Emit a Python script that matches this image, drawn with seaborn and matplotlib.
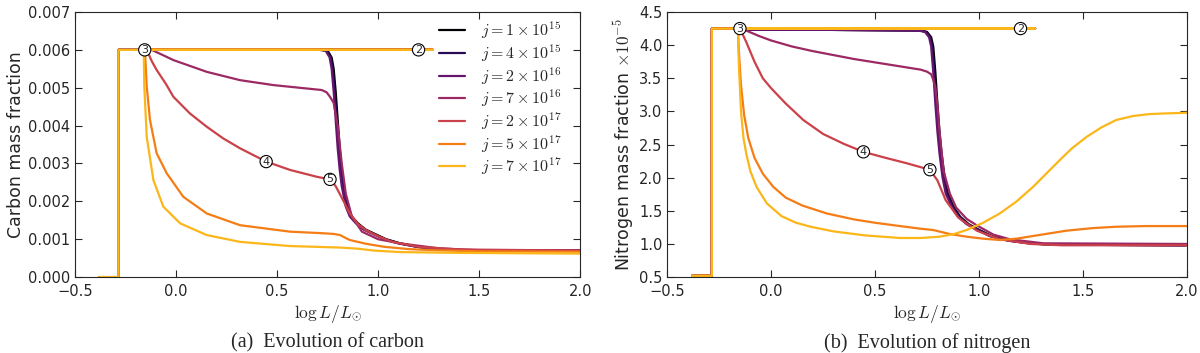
import pandas as pd
import numpy as np
import seaborn as sns
import matplotlib.pyplot as plt

# series labels
j_labels = [r'$j=1\times10^{15}$', r'$j=4\times10^{15}$', r'$j=2\times10^{16}$',
            r'$j=7\times10^{16}$', r'$j=2\times10^{17}$', r'$j=5\times10^{17}$',
            r'$j=7\times10^{17}$']
colors = ['#000004', '#280b54', '#65156e', '#9c2964', '#cb4149', '#f57d15', '#fbb61a']

# common start of each track: pre-jump, jump, flat out to marker 2
start_x = [-0.38, -0.285, -0.285, 1.27]

# ---- carbon (panel a) ----
c_start_y = [0.0, 0.0, 0.006, 0.006]
dark_cx = [0.72, 0.75, 0.77, 0.78, 0.79, 0.80, 0.81, 0.82, 0.83, 0.85, 0.87, 0.90,
           0.94, 0.98, 1.04, 1.11, 1.2, 1.31, 1.5, 2.0]
dark_cy = [0.006, 0.00598, 0.0058, 0.0055, 0.0049, 0.00415, 0.0034, 0.00283, 0.0024,
           0.00186, 0.0016, 0.00142, 0.00125, 0.00115, 0.001, 0.00089, 0.0008,
           0.00073, 0.0007, 0.0007]
c_x = [
    dark_cx,
    [x - 0.005 for x in dark_cx],
    [x - 0.01 for x in dark_cx],
    [-0.12, -0.013, 0.152, 0.317, 0.482, 0.647, 0.721, 0.745, 0.762, 0.78, 0.80, 0.82,
     0.84, 0.87, 0.92, 1.0, 1.11, 1.3, 1.5, 2.0],
    [-0.145, -0.12, -0.096, -0.05, -0.013, 0.069, 0.152, 0.234, 0.317, 0.446, 0.564,
     0.696, 0.762, 0.79, 0.81, 0.86, 0.9, 0.94, 1.0, 1.07, 1.2, 1.4, 2.0],
    [-0.16, -0.153, -0.145, -0.129, -0.096, -0.046, 0.036, 0.152, 0.317, 0.564, 0.72,
     0.78, 0.812, 0.84, 0.86, 0.94, 1.03, 1.15, 1.28, 1.5, 2.0],
    [-0.16, -0.157, -0.145, -0.112, -0.063, 0.02, 0.152, 0.317, 0.564, 0.812, 0.9,
     0.98, 1.11, 1.4, 2.0],
]
c_y = [
    dark_cy,
    dark_cy,
    dark_cy,
    [0.006, 0.00573, 0.00542, 0.0052, 0.00507, 0.00498, 0.00494, 0.00488, 0.00476,
     0.0046, 0.004, 0.003, 0.0022, 0.0016, 0.0012, 0.001, 0.00089, 0.00076, 0.00071,
     0.0007],
    [0.006, 0.0057, 0.00547, 0.0051, 0.00476, 0.00432, 0.00397, 0.00366, 0.0034,
     0.00305, 0.00283, 0.00265, 0.00258, 0.0024, 0.0022, 0.00168, 0.0014, 0.00124,
     0.00108, 0.00093, 0.0008, 0.00073, 0.0007],
    [0.006, 0.0059, 0.00503, 0.00415, 0.00327, 0.00274, 0.00212, 0.00168, 0.00137,
     0.0012, 0.00116, 0.00114, 0.00111, 0.00103, 0.00098, 0.00088, 0.0008, 0.00074,
     0.00071, 0.00068, 0.00067],
    [0.006, 0.00503, 0.0037, 0.00256, 0.00186, 0.00142, 0.00111, 0.00093, 0.00082,
     0.00078, 0.00075, 0.0007, 0.00066, 0.00064, 0.00062],
]

# ---- nitrogen (panel b), units of 1e-5 ----
n_start_y = [0.52, 0.52, 4.25, 4.25]
dark_nx = [-0.15, 0.3, 0.72, 0.75, 0.77, 0.78, 0.79, 0.80, 0.81, 0.82, 0.835, 0.85,
           0.88, 0.91, 0.95, 0.99, 1.06, 1.15, 1.25, 1.35, 2.0]
dark_ny = [4.24, 4.23, 4.22, 4.2, 4.12, 3.98, 3.6, 3.12, 2.7, 2.37, 2.0, 1.76, 1.55,
           1.41, 1.3, 1.23, 1.12, 1.05, 1.01, 0.99, 0.98]
n_x = [
    dark_nx,
    [x - 0.005 for x in dark_nx],
    [x - 0.01 for x in dark_nx],
    [-0.15, -0.12, -0.06, 0.0, 0.1, 0.2, 0.4, 0.62, 0.72, 0.75, 0.77, 0.78, 0.79, 0.80,
     0.81, 0.83, 0.86, 0.89, 0.94, 0.99, 1.07, 1.15, 1.31, 2.0],
    [-0.15, -0.12, -0.08, -0.04, 0.0, 0.07, 0.155, 0.25, 0.35, 0.444, 0.55, 0.65,
     0.764, 0.80, 0.84, 0.9, 0.99, 1.1, 1.25, 1.4, 2.0],
    [-0.16, -0.155, -0.145, -0.13, -0.11, -0.08, -0.04, 0.011, 0.07, 0.15, 0.268, 0.4,
     0.5, 0.62, 0.72, 0.78, 0.86, 0.94, 1.02, 1.10, 1.18, 1.26, 1.42, 1.55, 1.66, 1.8,
     2.0],
    [-0.16, -0.155, -0.145, -0.133, -0.12, -0.1, -0.07, -0.02, 0.05, 0.12, 0.19, 0.3,
     0.45, 0.62, 0.72, 0.81, 0.88, 0.94, 1.02, 1.10, 1.18, 1.26, 1.32, 1.39, 1.45,
     1.52, 1.59, 1.66, 1.74, 1.82, 1.9, 2.0],
]
n_y = [
    dark_ny,
    dark_ny,
    dark_ny,
    [4.25, 4.22, 4.14, 4.07, 3.98, 3.91, 3.79, 3.68, 3.63, 3.6, 3.56, 3.48, 3.37, 3.1,
     2.7, 2.1, 1.76, 1.55, 1.38, 1.28, 1.14, 1.07, 1.01, 1.0],
    [4.25, 4.05, 3.75, 3.5, 3.35, 3.12, 2.87, 2.66, 2.51, 2.39, 2.3, 2.22, 2.12, 1.96,
     1.66, 1.4, 1.2, 1.07, 1.0, 0.98, 0.98],
    [4.25, 3.9, 3.4, 2.95, 2.6, 2.3, 2.06, 1.86, 1.7, 1.58, 1.46, 1.37, 1.32, 1.27,
     1.23, 1.21, 1.15, 1.11, 1.08, 1.06, 1.08, 1.12, 1.2, 1.24, 1.26, 1.27, 1.27],
    [4.25, 3.7, 3.0, 2.6, 2.37, 2.1, 1.86, 1.61, 1.42, 1.32, 1.26, 1.19, 1.13, 1.09,
     1.09, 1.11, 1.15, 1.21, 1.32, 1.46, 1.64, 1.86, 2.05, 2.27, 2.45, 2.62, 2.76,
     2.87, 2.93, 2.96, 2.97, 2.98],
]

# circled stage markers: label, x, y
stages = ['2', '3', '4', '5']
c_stage_x = [1.2, -0.155, 0.446, 0.762]
c_stage_y = [0.006, 0.006, 0.00305, 0.00258]
n_stage_x = [1.2, -0.15, 0.444, 0.764]
n_stage_y = [4.25, 4.25, 2.39, 2.12]


def build_df(sx, sy, xs, ys):
    rows = []
    for lab, x, y in zip(j_labels, xs, ys):
        for xi, yi in zip(sx + x, sy + y):
            rows.append((lab, xi, yi))
    return pd.DataFrame(rows, columns=['j', 'logL', 'frac'])


def draw_panel(ax, df, stage_x, stage_y, ylabel, ylim, caption, legend=False):
    sns.lineplot(data=df, x='logL', y='frac', hue='j', palette=colors, sort=False,
                 estimator=None, lw=1.6, ax=ax, legend=legend)
    for lab, x, y in zip(stages, stage_x, stage_y):
        ax.annotate(lab, (x, y), ha='center', va='center', fontsize=8, zorder=5,
                    bbox=dict(boxstyle='circle,pad=0.1', fc='white', ec='black', lw=0.8))
    ax.set_xlim(-0.5, 2.0)
    ax.set_ylim(ylim)
    ax.set_xticks(np.arange(-0.5, 2.01, 0.5))
    ax.set_xlabel(r'$\log L/L_{\odot}$', fontsize=12.5, labelpad=3)
    ax.set_ylabel(ylabel, fontsize=12.5, labelpad=2)
    ax.tick_params(direction='in', top=True, right=True, labelsize=10.5, length=5)
    ax.tick_params(axis='x', pad=5)
    ax.text(0.5, -0.249, caption, transform=ax.transAxes, ha='center', va='center',
            fontsize=14.5, family='Liberation Serif')
    if legend:
        ax.legend(frameon=False, loc='upper right', fontsize=11.5, handlelength=1.6,
                  handletextpad=1.0, labelspacing=0.08, borderaxespad=0.0,
                  bbox_to_anchor=(0.975, 0.995))


sns.set_style('ticks')
plt.rcParams['font.family'] = ['DejaVu Sans']
plt.rcParams['mathtext.fontset'] = 'cm'

fig = plt.figure(figsize=(12, 3.53), dpi=100)
ax1 = fig.add_axes([0.0625, 0.215, 0.421, 0.751])
ax2 = fig.add_axes([0.556, 0.215, 0.433, 0.751])

draw_panel(ax1, build_df(start_x, c_start_y, c_x, c_y), c_stage_x, c_stage_y,
           'Carbon mass fraction', (0, 0.007), '(a)  Evolution of carbon', legend=True)
ax1.set_yticks(np.arange(0, 0.0071, 0.001))
ax1.yaxis.set_major_formatter(plt.FormatStrFormatter('%.3f'))

draw_panel(ax2, build_df(start_x, n_start_y, n_x, n_y), n_stage_x, n_stage_y,
           r'Nitrogen mass fraction $\times10^{-5}$', (0.5, 4.5), '(b)  Evolution of nitrogen')
ax2.set_yticks(np.arange(0.5, 4.51, 0.5))

fig.savefig('out.png', dpi=100)
